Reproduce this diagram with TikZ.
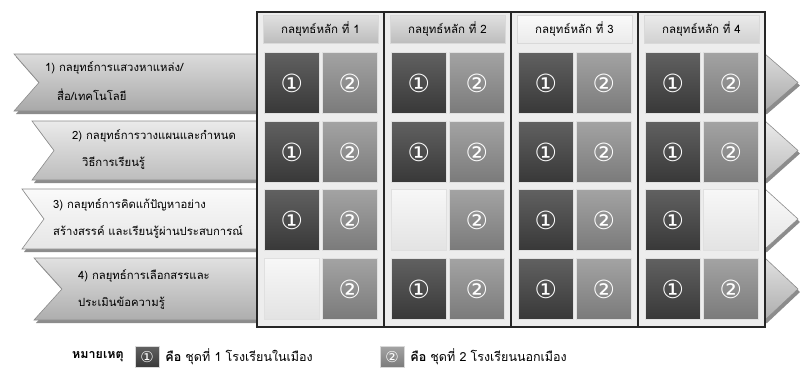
\documentclass[tikz,border=0pt]{standalone}
\usepackage{fontspec}
\setmainfont[Script=Thai]{Loma}
\newfontfamily\symfont{DejaVu Sans}
\usetikzlibrary{positioning}

\tikzset{
  cellbase/.style={anchor=north west, minimum width=55pt, minimum height=61pt, inner sep=0pt,
    draw=black!12, line width=0.8pt, text=white, font=\symfont\fontsize{25}{25}\selectfont},
  cellone/.style={cellbase, top color=black!62, bottom color=black!78, node contents={①}},
  celltwo/.style={cellbase, top color=black!36, bottom color=black!52, node contents={②}},
  cellnone/.style={cellbase, top color=black!3, bottom color=black!11, node contents={}},
  headbox/.style={minimum width=115pt, minimum height=28pt, inner sep=0pt, draw=black!15,
    font=\fontsize{11.5}{13}\selectfont},
  ribbon/.style={draw=black!45, line width=0.6pt},
  rowtext/.style={anchor=west, inner sep=0pt, font=\fontsize{11.3}{13}\selectfont},
  colframe/.style={draw=black!85, line width=1.3pt},
  keybox/.style={minimum width=24pt, minimum height=21pt, inner sep=0pt, draw=black!15,
    text=white, font=\symfont\fontsize{15}{15}\selectfont},
  keytext/.style={anchor=west, inner sep=0pt, font=\fontsize{12.5}{14}\selectfont},
}

\begin{document}
\begin{tikzpicture}[x=1pt,y=-1pt]
\useasboundingbox[fill=white] (0,0) rectangle (800,383);

% ribbons for the four strategies
\foreach \rt/\rb/\rx/\rd/\rtop/\rbot in {54/111/14/25/black!14/black!34, 121/180/32/22/black!8/black!26,
                                        189/249/22/22/black!2/black!10, 258/320/34/28/black!12/black!32} {
  \fill[black!45] ({\rx+2},{\rt+3}) -- (767,{\rt+3}) -- (800,{(\rt+\rb)/2+3}) -- (767,{\rb+3})
    -- ({\rx+2},{\rb+3}) -- ({\rx+\rd+2},{(\rt+\rb)/2+3}) -- cycle;
  \draw[ribbon, top color=\rtop, bottom color=\rbot] (\rx,\rt) -- (765,\rt) -- (798,{(\rt+\rb)/2})
    -- (765,\rb) -- (\rx,\rb) -- ({\rx+\rd},{(\rt+\rb)/2}) -- cycle;
}

\node[rowtext] (txt-1a) at (45,68) {1) กลยุทธ์การแสวงหาแหล่ง/};
\node[rowtext] (txt-1b) at (57,95) {สื่อ/เทคโนโลยี};
\node[rowtext] (txt-2a) at (72,136) {2) กลยุทธ์การวางแผนและกำหนด};
\node[rowtext] (txt-2b) at (82,163) {วิธีการเรียนรู้};
\node[rowtext] (txt-3a) at (53,205) {3) กลยุทธ์การคิดแก้ปัญหาอย่าง};
\node[rowtext] (txt-3b) at (53,232) {สร้างสรรค์ และเรียนรู้ผ่านประสบการณ์};
\node[rowtext] (txt-4a) at (78,276) {4) กลยุทธ์การเลือกสรรและ};
\node[rowtext] (txt-4b) at (78,303) {ประเมินข้อความรู้};

% columns and headers
\foreach \cn/\htop/\hbot in {1/black!12/black!26, 2/black!12/black!26, 3/black!2/black!8, 4/black!8/black!18} {
  \fill[black!7] ({257+127*(\cn-1)},12) rectangle ++(127,315);
  \node[headbox, top color=\htop, bottom color=\hbot] (head-\cn) at ({320.5+127*(\cn-1)},29) {กลยุทธ์หลัก ที่ \cn};
}

% cells: row/top/column/first/second
\foreach \rn/\ry/\cn/\ka/\kb in {1/52/1/cellone/celltwo, 1/52/2/cellone/celltwo, 1/52/3/cellone/celltwo, 1/52/4/cellone/celltwo,
                                 2/121/1/cellone/celltwo, 2/121/2/cellone/celltwo, 2/121/3/cellone/celltwo, 2/121/4/cellone/celltwo,
                                 3/189/1/cellone/celltwo, 3/189/2/cellnone/celltwo, 3/189/3/cellone/celltwo, 3/189/4/cellone/cellnone,
                                 4/258/1/cellnone/celltwo, 4/258/2/cellone/celltwo, 4/258/3/cellone/celltwo, 4/258/4/cellone/celltwo} {
  \node[\ka, name=cell-\rn-\cn-a, at={({264+127*(\cn-1)},\ry)}];
  \node[\kb, name=cell-\rn-\cn-b, at={({322+127*(\cn-1)},\ry)}];
}

\foreach \cn in {1,...,4}
  \draw[colframe] ({257+127*(\cn-1)},12) rectangle ++(127,315);

% legend
\node[keytext, font=\bfseries\fontsize{12.5}{14}\selectfont] (note) at (72,357) {หมายเหตุ};
\node[keybox, top color=black!62, bottom color=black!78] (key-one) at (147,357) {①};
\node[keytext, right=6pt of key-one] (key-one-txt) {\textbf{คือ} ชุดที่ 1 โรงเรียนในเมือง};
\node[keybox, top color=black!36, bottom color=black!52] (key-two) at (392,357) {②};
\node[keytext, right=6pt of key-two] (key-two-txt) {\textbf{คือ} ชุดที่ 2 โรงเรียนนอกเมือง};
\end{tikzpicture}
\end{document}
